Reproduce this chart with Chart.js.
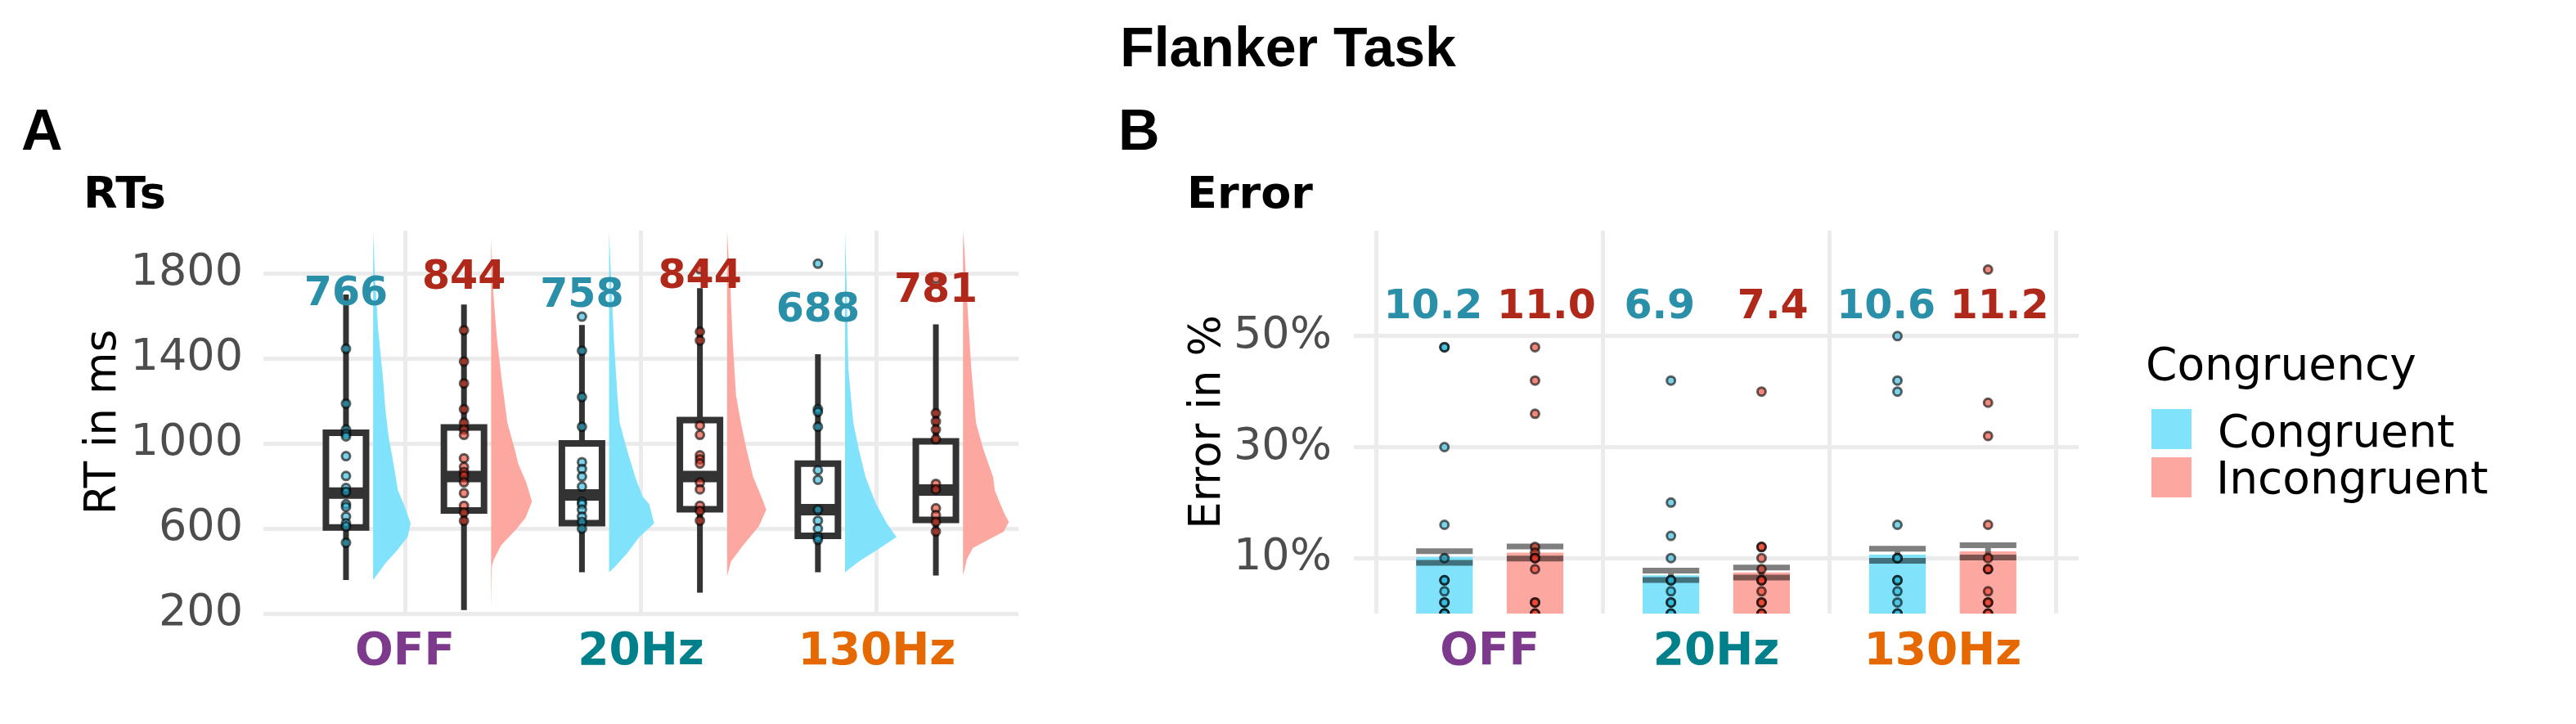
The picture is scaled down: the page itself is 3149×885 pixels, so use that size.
<!DOCTYPE html>
<html lang="en">
<head>
<meta charset="utf-8" />
<title>Flanker Task</title>
<script src="https://cdn.jsdelivr.net/npm/chart.js@4.4"></script>
<style>
  html,body{margin:0;padding:0;background:#fff;}
  #page{position:relative;width:3149px;height:885px;overflow:hidden;font-family:'DejaVu Sans',sans-serif;color:#000;}
  .txt{position:absolute;line-height:1;white-space:nowrap;}
  #title{left:0;width:3149px;text-align:center;top:18px;font:bold 68px 'Liberation Sans',Arial,sans-serif;}
  .tag{top:119px;font:bold 70px 'Liberation Sans',Arial,sans-serif;}
  .sub{top:209px;font-weight:bold;font-size:54px;}
  .leg{font-size:55px;}
  .key{position:absolute;left:2630px;width:49px;height:49px;}
  canvas{position:absolute;top:260px;}
</style>
</head>
<body>
<div id="page">
  <div id="title" class="txt">Flanker Task</div>
  <div class="txt tag" style="left:26px">A</div>
  <div class="txt tag" style="left:1367px">B</div>
  <div class="txt sub" style="left:102px">RTs</div>
  <div class="txt sub" style="left:1451px">Error</div>

  <div class="txt leg" style="left:2623px;top:418px">Congruency</div>
  <div class="key" style="top:500px;background:#80e3fb"></div>
  <div class="key" style="top:559px;background:#fca8a1"></div>
  <div class="txt leg" style="left:2711px;top:500px">Congruent</div>
  <div class="txt leg" style="left:2709px;top:557px">Incongruent</div>

  <canvas id="rtChart" width="1300" height="625" style="left:0"></canvas>
  <canvas id="errChart" width="1260" height="625" style="left:1330px"></canvas>
</div>

<script>
/***** ---------- Data ---------- *****/
const stim       =['OFF','20Hz','130Hz'];
const rtTicks    =[200,600,1000,1400,1800];
const errTicks   =[10,30,50];

// RT boxplots: [min, q1, median, q3, max]
const rtBoxCon=[[358,605,766,1050,1700],[394,625,758,1000,1557],[394,565,688,905,1419]];
const rtBoxInc=[[216,685,844,1075,1653],[298,690,844,1110,1730],[379,640,781,1010,1560]];
const rtLabelCon=[766,758,688];
const rtLabelInc=[844,844,781];
const rtLabelYCon=[1650,1642,1573];
const rtLabelYInc=[1727,1731,1665];

// subject RTs (ms)
const rtPtsCon=[
  [1445,1187,1065,1045,1033,940,847,790,772,714,701,656,625,610,533],
  [1596,1436,1218,1078,912,880,844,797,726,714,688,656,631,599],
  [1845,1161,1148,1078,874,829,688,637,599,560,547]
];
const rtPtsInc=[
  [1532,1385,1282,1161,1097,1065,1040,930,889,865,848,817,766,707,675,636],
  [1819,1525,1484,1084,1040,944,925,905,816,784,707,682,637],
  [1774,1142,1103,1065,1020,810,784,695,663,631,586]
];

// density outlines: [RT, half-violin width in x units]
const rtDensCon=[
  [[358,0],[400,.028],[440,.055],[500,.104],[560,.146],[623,.159],[700,.135],[780,.105],[900,.087],[1030,.066],[1160,.052],[1290,.043],[1540,.021],[1800,.007],[2000,0]],
  [[394,0],[419,.024],[483,.076],[560,.128],[624,.191],[714,.170],[751,.142],[841,.111],[969,.076],[1097,.045],[1225,.035],[1480,.021],[1736,.010],[2000,0]],
  [[394,0],[445,.059],[496,.132],[560,.218],[624,.177],[714,.132],[841,.087],[969,.059],[1097,.035],[1353,.014],[1736,.007],[2000,0]]
];
const rtDensInc=[
  [[216,0],[420,.003],[450,.010],[520,.042],[597,.107],[650,.146],[727,.173],[816,.149],[905,.115],[973,.100],[1097,.069],[1300,.045],[1500,.024],[1700,.010],[1966,0],[2000,0]],
  [[375,0],[445,.017],[522,.069],[611,.135],[688,.166],[739,.149],[841,.111],[969,.083],[1097,.059],[1225,.038],[1480,.024],[1736,.014],[2000,0]],
  [[379,0],[458,.017],[509,.042],[586,.173],[631,.194],[676,.173],[778,.135],[841,.128],[969,.087],[1097,.055],[1353,.035],[1736,.014],[1902,.007],[2000,0]]
];

// error rates (%)
const errMeanCon=[10.2,6.9,10.6];
const errMeanInc=[11.0,7.4,11.2];
const errSeCon=[1.05,0.85,1.1];
const errSeInc=[1.1,0.9,1.1];
const errLabelY=53.2;
const errPtsCon=[
  [48,48,30,16,10,6,6,4,2,2,0,0,0],
  [42,20,14,10,6,6,4,2,2,0,0],
  [50,42,40,16,10,10,6,6,4,2,0,0]
];
const errPtsInc=[
  [48,42,36,12,11,10,10,8,2,2,0,0],
  [40,12,12,10,8,6,6,4,2,2,0,0],
  [62,38,32,16,10,8,8,4,2,2,0,0]
];

/***** ---------- Style ---------- *****/
const CON='#80e3fb', INC='#fca8a1';
const CON_TXT='#2a8fa8', INC_TXT='#b0281a';
const CON_PT='rgba(40,180,215,0.6)', INC_PT='rgba(230,55,35,0.6)';
const PT_LINE='rgba(0,0,0,0.6)';
const DARK='#333333', GRID='#ebebeb', TICK='#4d4d4d';
const stimColors=['#7d3a8c','#00808a','#e66800'];
const BOX_OFF=0.25, BOX_HW=0.085, DENS_OFF=0.115;
const BAR_OFF=0.2, EB_HW=0.125, LAB_OFF=0.25;
const FONT='DejaVu Sans';

/***** ---------- Helpers ---------- *****/
function violin(cx,dens,color){
  const b=cx+DENS_OFF;
  const pts=[{x:b,y:dens[0][0]}].concat(dens.map(d=>({x:b+d[1],y:d[0]})),[{x:b,y:dens[dens.length-1][0]}]);
  return {data:pts,fill:'shape',backgroundColor:color,borderColor:'transparent',borderWidth:0,order:6};
}
function boxplot(cx,s){
  const [mn,q1,md,q3,mx]=s, l=cx-BOX_HW, r=cx+BOX_HW;
  return [
    {data:[{x:l,y:q1},{x:r,y:q1},{x:r,y:q3},{x:l,y:q3},{x:l,y:q1}],fill:'shape',backgroundColor:'#fff',
     borderColor:DARK,borderWidth:8,borderJoinStyle:'miter',borderCapStyle:'square',order:5},
    {data:[{x:cx,y:mn},{x:cx,y:q1},{x:cx,y:null},{x:cx,y:q3},{x:cx,y:mx}],borderColor:DARK,borderWidth:7,fill:false,order:4},
    {data:[{x:l,y:md},{x:r,y:md}],borderColor:DARK,borderWidth:14,fill:false,order:3}
  ];
}
function dots(cx,vals,color){
  return {data:vals.map(v=>({x:cx,y:v})),showLine:false,pointRadius:5,pointBorderWidth:3,
          pointBackgroundColor:color,pointBorderColor:PT_LINE,order:1};
}
function errBars(means,ses,off){
  const out=[];
  means.forEach((m,i)=>{
    const c=i+1+off, lo=m-ses[i], hi=m+ses[i];
    out.push({x:c-EB_HW,y:hi},{x:c+EB_HW,y:hi},{x:c,y:null},
             {x:c-EB_HW,y:lo},{x:c+EB_HW,y:lo},{x:c,y:null},
             {x:c,y:lo},{x:c,y:hi},{x:c,y:null});
  });
  return {data:out,borderColor:'rgba(0,0,0,0.5)',borderWidth:7,borderCapStyle:'butt',fill:false,order:3};
}
function makeLabels(items){
  return {id:'valueLabels',afterDatasetsDraw(chart){
    const {ctx,scales:{x,y}}=chart;
    ctx.save();
    ctx.font='bold 49px "'+FONT+'"';
    ctx.textAlign='center';ctx.textBaseline='alphabetic';
    items.forEach(it=>{ctx.fillStyle=it.color;ctx.fillText(it.text,x.getPixelForValue(it.x),y.getPixelForValue(it.y));});
    ctx.restore();
  }};
}
// pin the axis boxes so the plot area lands where the reference has it
function pin(s,prop,val){
  s[prop]=val;
  s.paddingTop=0;s.paddingBottom=0;s.paddingLeft=0;s.paddingRight=0;
}
function scalesFor(o){
  return {
    x:{type:'linear',min:0.4,max:3.6,offset:false,
       afterBuildTicks:s=>{s.ticks=stim.map((_,i)=>({value:i+1}));},
       afterFit:s=>pin(s,'height',135),
       grid:{color:GRID,lineWidth:5,drawTicks:false},
       border:{display:false},
       ticks:{autoSkip:false,maxRotation:0,padding:15,font:{family:FONT,size:55,weight:'bold'},
              color:c=>stimColors[c.index],callback:(v,i)=>stim[i]}},
    y:{type:'linear',min:o.min,max:o.max,
       afterBuildTicks:s=>{s.ticks=o.ticks.map(v=>({value:v}));},
       afterFit:s=>pin(s,'width',o.yw),
       grid:{color:GRID,lineWidth:5,drawTicks:false},
       border:{display:false},
       ticks:{padding:o.tp,font:{family:FONT,size:54},color:TICK,callback:o.fmt},
       title:{display:true,text:o.title,color:'#000',font:{family:FONT,size:53},padding:{top:o.tpad,bottom:0}}}
  };
}
const common={type:'line',options:{responsive:false,animation:false,events:[],
  plugins:{legend:{display:false},tooltip:{enabled:false}},
  elements:{point:{radius:0,hoverRadius:0},line:{tension:0}}}};

/***** ---------- Panel A: RTs ---------- *****/
const dsA=[], labA=[];
stim.forEach((_,i)=>{
  const cc=i+1-BOX_OFF, ci=i+1+BOX_OFF;
  dsA.push(violin(cc,rtDensCon[i],CON),violin(ci,rtDensInc[i],INC));
  dsA.push(...boxplot(cc,rtBoxCon[i]),...boxplot(ci,rtBoxInc[i]));
  dsA.push(dots(cc,rtPtsCon[i],CON_PT),dots(ci,rtPtsInc[i],INC_PT));
  labA.push({text:String(rtLabelCon[i]),x:cc,y:rtLabelYCon[i],color:CON_TXT});
  labA.push({text:String(rtLabelInc[i]),x:ci,y:rtLabelYInc[i],color:INC_TXT});
});
new Chart(document.getElementById('rtChart'),{
  ...common,
  data:{datasets:dsA},
  options:{...common.options,layout:{padding:{top:22,right:55,left:0,bottom:0}},
    scales:scalesFor({min:200,max:2000,ticks:rtTicks,yw:322,tp:25,tpad:95,title:'RT in ms',fmt:v=>String(v)})},
  plugins:[makeLabels(labA)]
});

/***** ---------- Panel B: Error ---------- *****/
const barOpts={type:'bar',grouped:false,categoryPercentage:0.625,barPercentage:1,borderWidth:0,order:5};
const dsB=[
  {...barOpts,data:errMeanCon.map((m,i)=>({x:i+1-BAR_OFF,y:m})),backgroundColor:CON},
  {...barOpts,data:errMeanInc.map((m,i)=>({x:i+1+BAR_OFF,y:m})),backgroundColor:INC},
  errBars(errMeanCon,errSeCon,-BAR_OFF),
  errBars(errMeanInc,errSeInc,BAR_OFF)
];
const labB=[];
stim.forEach((_,i)=>{
  dsB.push(dots(i+1-BAR_OFF,errPtsCon[i],CON_PT),dots(i+1+BAR_OFF,errPtsInc[i],INC_PT));
  labB.push({text:errMeanCon[i].toFixed(1),x:i+1-LAB_OFF,y:errLabelY,color:CON_TXT});
  labB.push({text:errMeanInc[i].toFixed(1),x:i+1+LAB_OFF,y:errLabelY,color:INC_TXT});
});
new Chart(document.getElementById('errChart'),{
  ...common,
  data:{datasets:dsB},
  options:{...common.options,layout:{padding:{top:22,right:49,left:0,bottom:0}},
    scales:scalesFor({min:0,max:69,ticks:errTicks,yw:325,tp:27,tpad:115,title:'Error in %',fmt:v=>v+'%'})},
  plugins:[makeLabels(labB)]
});
</script>
</body>
</html>
